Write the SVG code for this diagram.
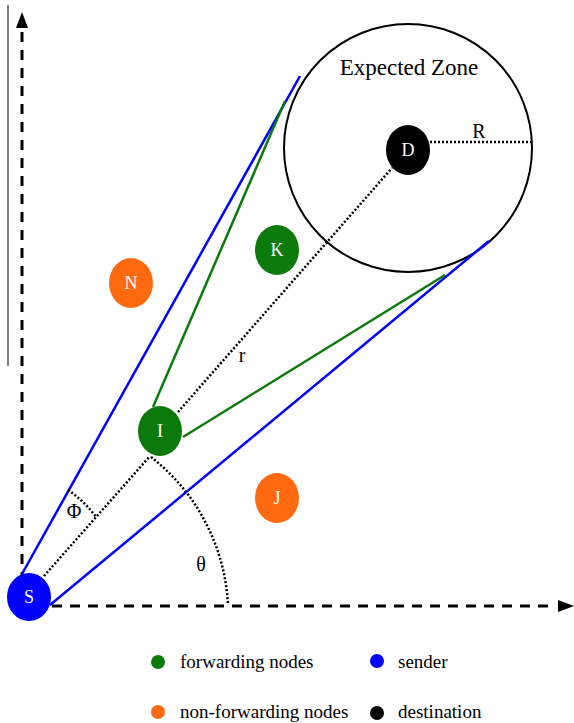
<svg xmlns="http://www.w3.org/2000/svg" width="574" height="723" viewBox="0 0 574 723">
<style>
.lbl{font-family:"Liberation Serif","Times New Roman",serif;fill:#fff;font-size:18px;text-anchor:middle}
.txt{font-family:"Liberation Serif","Times New Roman",serif;fill:#000}
.axis{stroke:#000;stroke-width:3;stroke-dasharray:10 8;fill:none}
.dot{stroke:#000;stroke-width:2.5;stroke-dasharray:2 2;fill:none}
.blue{stroke:#0000ff;stroke-width:2.5;fill:none}
.green{stroke:#0b7a0b;stroke-width:2.5;fill:none}
</style>
<rect width="574" height="723" fill="#fff"/>
<line x1="8" y1="5" x2="8" y2="366" stroke="#555" stroke-width="1.5"/>
<g id="axes">
<line class="axis" x1="22" y1="600" x2="22" y2="30"/>
<polygon points="22,12 16,28 28,28" fill="#000"/>
<line class="axis" x1="52" y1="606" x2="556" y2="606"/>
<polygon points="574,606 558,600 558,612" fill="#000"/>
</g>
<g id="zone">
<circle cx="408" cy="148" r="124" fill="none" stroke="#000" stroke-width="2"/>
<text class="txt" x="409" y="75" font-size="23" text-anchor="middle">Expected Zone</text>
</g>
<g id="connectors">
<line class="blue" x1="22" y1="574" x2="300" y2="76"/>
<line class="blue" x1="50" y1="605" x2="489" y2="241"/>
<line class="green" x1="153" y1="407" x2="285" y2="101"/>
<line class="green" x1="183" y1="437" x2="445" y2="275"/>
<line class="dot" x1="44" y1="576" x2="150" y2="456"/>
<line class="dot" x1="178" y1="412" x2="392" y2="168"/>
<line class="dot" x1="430" y1="142" x2="532" y2="142"/>
<path class="dot" d="M68,490 A110,110 0 0 1 96,517"/>
<path class="dot" d="M151,457 A200,200 0 0 1 228,605"/>
</g>
<g class="txt" font-size="20">
<text x="479" y="138" text-anchor="middle">R</text>
<text x="242" y="362" text-anchor="middle">r</text>
<text x="74" y="518" text-anchor="middle">Φ</text>
<text x="201" y="571" text-anchor="middle">θ</text>
</g>
<g id="node-D"><ellipse cx="408" cy="150" rx="22" ry="25" fill="#000"/><text class="lbl" x="408" y="156">D</text></g>
<g id="node-K"><ellipse cx="277" cy="250" rx="22" ry="25" fill="#0b7a0b"/><text class="lbl" x="277" y="256">K</text></g>
<g id="node-N"><ellipse cx="131" cy="283" rx="22" ry="25" fill="#ff6a10"/><text class="lbl" x="131" y="289">N</text></g>
<g id="node-I"><ellipse cx="160" cy="431" rx="22" ry="25" fill="#0b7a0b"/><text class="lbl" x="160" y="437">I</text></g>
<g id="node-J"><ellipse cx="277" cy="498" rx="22" ry="25" fill="#ff6a10"/><text class="lbl" x="277" y="504">J</text></g>
<g id="node-S"><ellipse cx="29" cy="597" rx="22" ry="24" fill="#0000ff"/><text class="lbl" x="29" y="603">S</text></g>
<g id="legend" class="txt" font-size="19">
<circle cx="158" cy="662" r="7" fill="#0b7a0b"/><text x="180" y="668">forwarding nodes</text>
<circle cx="377" cy="661" r="7" fill="#0000ff"/><text x="398" y="668">sender</text>
<circle cx="158" cy="712" r="7" fill="#ff6a10"/><text x="180" y="718">non-forwarding nodes</text>
<circle cx="377" cy="713" r="7" fill="#000"/><text x="398" y="718">destination</text>
</g>
</svg>
